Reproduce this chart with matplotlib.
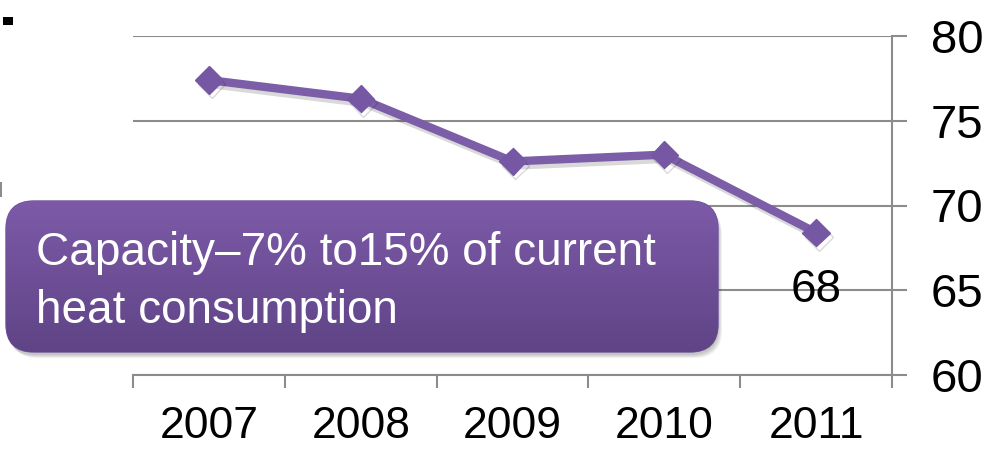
import numpy as np
import matplotlib
matplotlib.use("Agg")
import matplotlib.pyplot as plt
import matplotlib.patheffects as pe
from matplotlib.patches import FancyBboxPatch, Rectangle
from matplotlib.colors import LinearSegmentedColormap

# Data
years = ["2007", "2008", "2009", "2010", "2011"]
values = [77.4, 76.3, 72.6, 73.0, 68.4]
yticks = [60, 65, 70, 75, 80]
note_lines = ["Capacity–7% to15% of current", "heat consumption"]

W, H = 990, 454
fig = plt.figure(figsize=(W / 100, H / 100), dpi=100)

line_color = "#7B5EA7"
grid_color = "#8C8C8C"
sans = ["Liberation Sans", "DejaVu Sans"]

ax = fig.add_axes([133 / W, 1 - 375 / H, (892 - 133) / W, (375 - 36) / H])
x = np.arange(len(years))
ax.plot(x, values, color=line_color, lw=6, marker="D", ms=14,
        mfc="#7657A4", mec="#7657A4", solid_joinstyle="round",
        path_effects=[pe.SimpleLineShadow(offset=(2, -3), shadow_color="k", alpha=0.15),
                      pe.Normal()], zorder=3)

ax.set_xlim(-0.5, len(years) - 0.5)
ax.set_ylim(yticks[0], yticks[-1])

# right-hand value axis
ax.yaxis.tick_right()
ax.set_yticks(yticks)
ax.tick_params(axis="y", which="major", length=11, width=1.5, color=grid_color,
               pad=17, labelsize=34)
for lab in ax.get_yticklabels():
    lab.set_fontfamily(sans)
ax.grid(axis="y", color=grid_color, lw=1.5, zorder=1)

# category axis with boundary ticks
ax.set_xticks(x, years)
ax.set_xticks(np.arange(-0.5, len(years), 1), minor=True)
ax.tick_params(axis="x", which="major", length=0, pad=22, labelsize=32)
ax.tick_params(axis="x", which="minor", length=9.5, width=1.5, color=grid_color)
for lab in ax.get_xticklabels():
    lab.set_fontfamily(sans)

for side in ("left", "top"):
    ax.spines[side].set_visible(False)
for side in ("right", "bottom"):
    ax.spines[side].set_color(grid_color)
    ax.spines[side].set_linewidth(1.5)

# value label on the last point
ax.annotate(f"{values[-1]:.0f}", xy=(x[-1], values[-1]), xytext=(0, -50),
            textcoords="offset points", ha="center", va="baseline",
            fontsize=33, family=sans, zorder=4)

# overlay for the callout box
ov = fig.add_axes([0, 0, 1, 1], zorder=5)
ov.set_xlim(0, W)
ov.set_ylim(H, 0)
ov.axis("off")

bx, by, bw, bh = 6, 201, 712, 151
for i in range(4):
    sh = FancyBboxPatch((bx + 1 + i, by + 3 + i), bw, bh,
                        boxstyle="round,pad=0,rounding_size=28",
                        fc="k", ec="none", alpha=0.06)
    ov.add_patch(sh)

box = FancyBboxPatch((bx, by), bw, bh, boxstyle="round,pad=0,rounding_size=28",
                     fc="none", ec="#6E519A", lw=1)
ov.add_patch(box)
cmap = LinearSegmentedColormap.from_list("box", ["#7D5AA8", "#5F4486"])
grad = np.linspace(0, 1, 256).reshape(-1, 1)
im = ov.imshow(grad, cmap=cmap, aspect="auto",
               extent=(bx, bx + bw, by + bh, by), origin="upper", zorder=2)
im.set_clip_path(box)

ov.text(36, 265, note_lines[0], color="white", fontsize=33, va="baseline",
        family=sans, zorder=3)
ov.text(36, 322.7, note_lines[1], color="white", fontsize=33, va="baseline",
        family=sans, zorder=3)

# slide fragments at the left edge
ov.add_patch(Rectangle((3, 17), 10, 8, fc="black", ec="none"))
ov.add_patch(Rectangle((0, 182), 2, 15, fc=grid_color, ec="none"))

fig.savefig("out.png", dpi=100)
